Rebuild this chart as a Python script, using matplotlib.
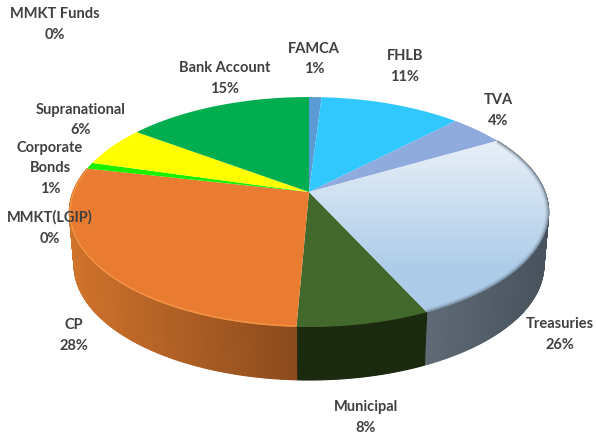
import numpy as np
import matplotlib
matplotlib.use('Agg')
import matplotlib.pyplot as plt
from matplotlib.patches import Polygon
from matplotlib.colors import to_rgb

categories = ['FAMCA', 'FHLB', 'TVA', 'Treasuries', 'Municipal', 'CP',
              'MMKT(LGIP)', 'Corporate\nBonds', 'Supranational', 'Bank Account', 'MMKT Funds']
values = [1.0, 11.3, 4.4, 26.4, 7.6, 27.8, 0.0, 0.9, 5.7, 14.9, 0.0]
colors = ['#5B9BD5', '#31C8FF', '#8FAADC', '#C5DAEE', '#43682B', '#E97C30',
          '#E97C30', '#19F000', '#FFFF00', '#00AE4F', '#4472C4']
label_xy = [(314, 59), (405, 66.5), (498, 110.5), (560, 334.5), (366, 417.5), (74, 335.5),
            (50, 228), (50, 168.5), (81, 120), (225, 78.5), (55, 24.5)]

CX, CY, SX, SY, K, DEPTH = 309, 193, 236, 111.5, 0.174, 53

def rim(theta):
    u, v = np.sin(theta), np.cos(theta)
    d = 1 + K * v
    return CX + SX * u / d, CY - SY * v / d

fig = plt.figure(figsize=(5.96, 4.39), dpi=100)
ax = fig.add_axes([0, 0, 1, 1])
ax.set_xlim(0, 596)
ax.set_ylim(439, 0)
ax.axis('off')

def mix(a, b, t):
    a, b = np.array(to_rgb(a)), np.array(to_rgb(b))
    return tuple(a + (b - a) * np.clip(t, 0, 1))

bounds = np.cumsum([0] + values) / 100 * 2 * np.pi

# side wall
for i in (3, 4, 5):
    a, b = bounds[i], bounds[i + 1]
    ts = np.linspace(a, b, int((b - a) * 120) + 2)
    for t0, t1 in zip(ts[:-1], ts[1:]):
        x0, y0 = rim(t0)
        x1, y1 = rim(t1)
        if i == 3:
            col = mix('#5E6A75', '#47525D', (x0 - 427) / 122)
        elif i == 5:
            col = mix('#D0732C', '#8B4A1C', (x0 - 70) / 227)
        else:
            col = to_rgb('#1B2A0E')
        bx0 = CX + (x0 - CX) * 0.98
        bx1 = CX + (x1 - CX) * 0.98
        p = Polygon([(x0, y0), (x1, y1), (bx1, y1 + DEPTH), (bx0, y0 + DEPTH)],
                    closed=True, fc=col, ec=col, lw=0.8, zorder=2)
        ax.add_patch(p)

# top faces
patches = {}
for i, (val, col) in enumerate(zip(values, colors)):
    if val <= 0:
        continue
    ts = np.linspace(bounds[i], bounds[i + 1], max(int(val * 8), 6))
    xs, ys = rim(ts)
    p = Polygon([(CX, CY)] + list(zip(xs, ys)), closed=True, fc=col, ec='none', zorder=3)
    ax.add_patch(p)
    patches[i] = p

# treasuries gradient
grad_y = np.linspace(120, 330, 300)
g = np.array([mix('#EEF3F9', '#ADCCE9', (y - 130) / 140) for y in grad_y]).reshape(300, 1, 3)
im = ax.imshow(g, extent=[300, 560, 330, 120], aspect='auto', zorder=3.5, interpolation='bilinear')
im.set_clip_path(patches[3])
ax.set_xlim(0, 596)
ax.set_ylim(439, 0)

# bevel along the rims
ts = np.linspace(bounds[3], bounds[4], 200)
xs, ys = rim(ts)
for lw, al in [(5, 0.10), (3.2, 0.16), (1.8, 0.24), (0.9, 0.35)]:
    ln, = ax.plot(xs, ys, color='#4F5E6C', lw=lw, alpha=al, zorder=4, solid_capstyle='butt')
    ln.set_clip_path(patches[3])
ts = np.linspace(bounds[5], bounds[6], 200)
xs, ys = rim(ts)
ln, = ax.plot(xs, ys, color='#F9A050', lw=2.0, alpha=0.7, zorder=4, solid_capstyle='butt')
ln.set_clip_path(patches[5])

for name, val, (lx, ly) in zip(categories, values, label_xy):
    ax.text(lx, ly, f'{name}\n{val:.0f}%', ha='center', va='center', multialignment='center',
            fontsize=10.5, fontweight='bold', family='Lato', color='#404040',
            linespacing=1.62, zorder=6)

fig.savefig('out.png', dpi=100)
